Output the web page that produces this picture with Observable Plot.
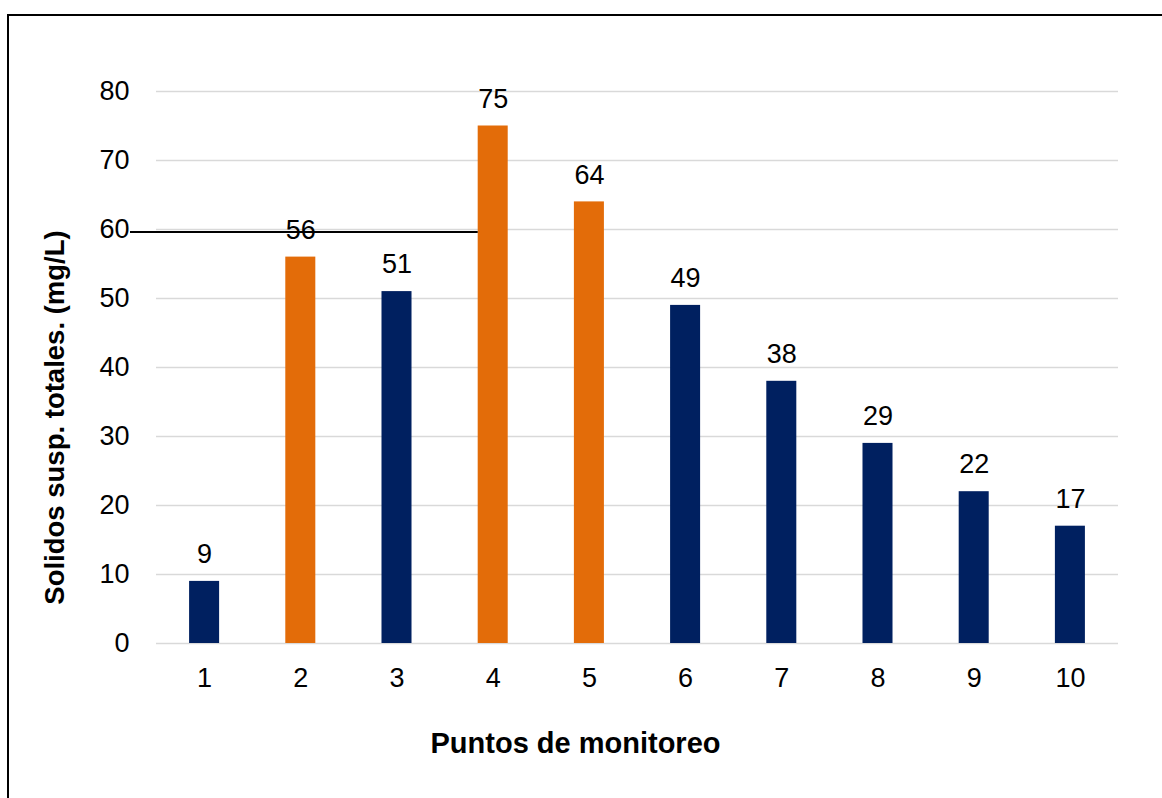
<!DOCTYPE html>
<html>
<head>
<meta charset="utf-8">
<script src="https://cdn.jsdelivr.net/npm/d3@7"></script>
<script src="https://cdn.jsdelivr.net/npm/@observablehq/plot@0.6"></script>
<style>
  html, body { margin: 0; padding: 0; background: #fff; overflow: hidden; }
  #page { position: relative; width: 1162px; height: 798px; overflow: hidden; }
  #marco { position: absolute; left: 7px; top: 14px; width: 1300px; height: 1000px;
           border: 2px solid #000; box-sizing: border-box; }
  #page svg { position: absolute; left: 0; top: 0; }
</style>
</head>
<body>
<div id="page"><div id="marco"></div></div>
<script>
// Puntos de monitoreo y sólidos suspendidos totales (mg/L)
const puntos = [1, 2, 3, 4, 5, 6, 7, 8, 9, 10];
const valores = [9, 56, 51, 75, 64, 49, 38, 29, 22, 17];
const grupos = ["A", "B", "A", "B", "B", "A", "A", "A", "A", "A"];
const yTicks = [0, 10, 20, 30, 40, 50, 60, 70, 80];
const limite = 60;
const tituloX = "Puntos de monitoreo";
const tituloY = "Solidos susp. totales. (mg/L)";

const datos = puntos.map((p, i) => ({punto: p, valor: valores[i], grupo: grupos[i]}));

const medioAncho = 0.156; // half bar width, in point units
const fuente = "'Liberation Sans', Arial, sans-serif";

const grafico = Plot.plot({
  width: 1162,
  height: 798,
  marginLeft: 156,
  marginRight: 44,
  marginTop: 91,
  marginBottom: 155,
  style: {fontFamily: fuente, fontSize: "27px", color: "#000", background: "transparent", overflow: "visible"},
  x: {domain: [0.5, 10.5], ticks: puntos, tickFormat: d => String(d), tickSize: 0, tickPadding: 24, label: null},
  y: {domain: [0, 80], ticks: yTicks, tickSize: 0, tickPadding: 27, label: null},
  color: {domain: ["A", "B"], range: ["#002060", "#E36C09"]},
  marks: [
    Plot.ruleY(yTicks, {stroke: "#d9d9d9", strokeWidth: 1.5}),
    Plot.rectY(datos, {
      x1: d => d.punto - medioAncho,
      x2: d => d.punto + medioAncho,
      y: "valor",
      fill: "grupo"
    }),
    Plot.ruleY([limite], {
      x1: 0.5,
      x2: 4 - medioAncho,
      insetLeft: -26,
      dy: 2.5,
      stroke: "#000",
      strokeWidth: 2
    }),
    Plot.text(datos, {x: "punto", y: "valor", text: d => String(d.valor), dy: -27, fontSize: 27, fill: "#000"}),
    Plot.text([tituloX], {
      text: d => d, frameAnchor: "bottom", dx: -62, dy: 100,
      textAnchor: "middle", lineAnchor: "middle",
      fontWeight: "bold", fontSize: 29, fill: "#000"
    }),
    Plot.text([tituloY], {
      text: d => d, frameAnchor: "left", rotate: -90, dx: -101, dy: 50,
      textAnchor: "middle", lineAnchor: "middle",
      fontWeight: "bold", fontSize: 27.5, fill: "#000"
    })
  ]
});

document.getElementById("page").appendChild(grafico);
</script>
</body>
</html>
